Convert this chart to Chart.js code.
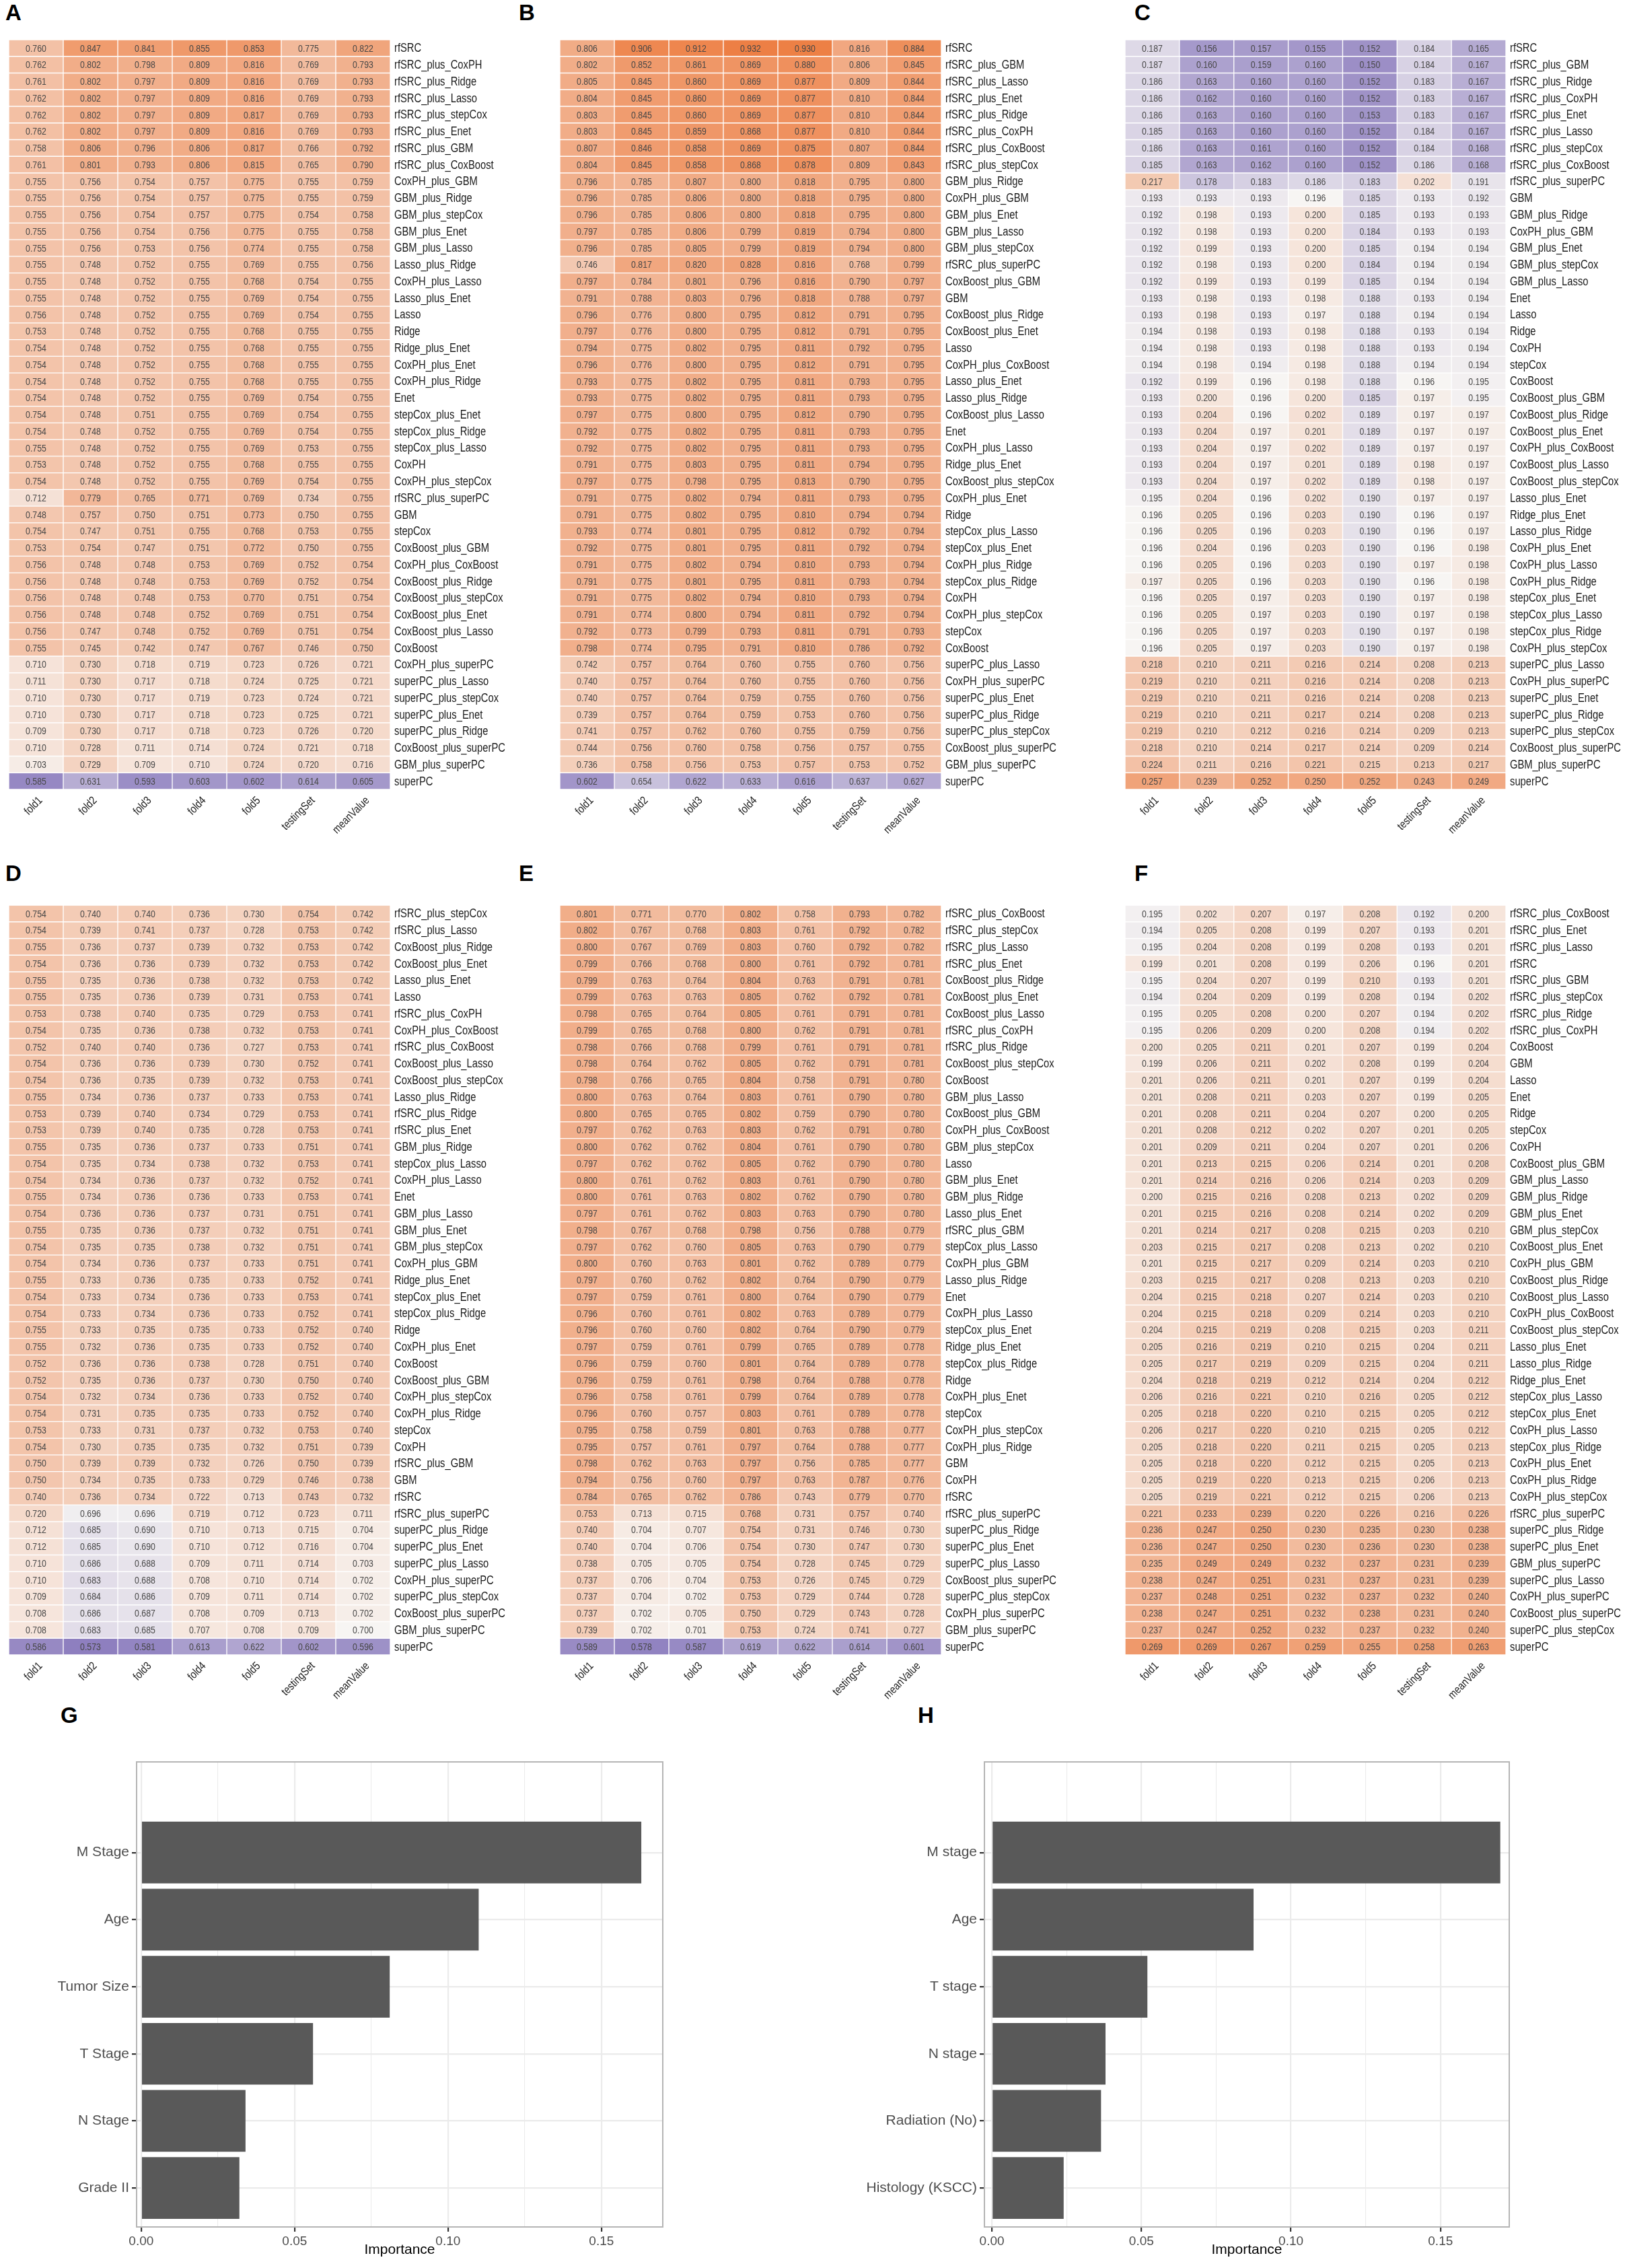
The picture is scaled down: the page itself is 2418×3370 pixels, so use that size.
<!DOCTYPE html>
<html>
<head>
<meta charset="utf-8">
<title>Model benchmark heatmaps and variable importance</title>
<script src="https://cdn.jsdelivr.net/npm/chart.js@4.4.1/dist/chart.umd.min.js"></script>
<style>
  body { margin: 0; background: #fff; }
  #page { position: relative; width: 2418px; height: 3370px; overflow: hidden; background: #fff; }
  canvas { position: absolute; }
  .tag { position: absolute; font: bold 33px 'Liberation Sans', Arial, sans-serif; color: #000; line-height: 1; }
</style>
</head>
<body>
<div id="page">
  <div class="tag" style="left:8px;top:2px">A</div>
  <div class="tag" style="left:771px;top:2px">B</div>
  <div class="tag" style="left:1686px;top:2px">C</div>
  <div class="tag" style="left:8px;top:1281px">D</div>
  <div class="tag" style="left:771px;top:1281px">E</div>
  <div class="tag" style="left:1686px;top:1281px">F</div>
  <div class="tag" style="left:90px;top:2532px">G</div>
  <div class="tag" style="left:1364px;top:2532px">H</div>

  <canvas id="hmA" width="747" height="1209" style="left:13px;top:59px"></canvas>
  <canvas id="hmB" width="747" height="1209" style="left:832px;top:59px"></canvas>
  <canvas id="hmC" width="746" height="1209" style="left:1672px;top:59px"></canvas>
  <canvas id="hmD" width="747" height="1209" style="left:13px;top:1345px"></canvas>
  <canvas id="hmE" width="747" height="1209" style="left:832px;top:1345px"></canvas>
  <canvas id="hmF" width="746" height="1209" style="left:1672px;top:1345px"></canvas>
  <canvas id="barG" width="1000" height="810" style="left:0px;top:2560px"></canvas>
  <canvas id="barH" width="1000" height="810" style="left:1260px;top:2560px"></canvas>
</div>

<script>
// column headers shared by all six heatmaps
const columns = ['fold1', 'fold2', 'fold3', 'fold4', 'fold5', 'testingSet', 'meanValue'];

// panel A
const modelsA = ['rfSRC','rfSRC_plus_CoxPH','rfSRC_plus_Ridge','rfSRC_plus_Lasso','rfSRC_plus_stepCox','rfSRC_plus_Enet','rfSRC_plus_GBM','rfSRC_plus_CoxBoost',
  'CoxPH_plus_GBM','GBM_plus_Ridge','GBM_plus_stepCox','GBM_plus_Enet','GBM_plus_Lasso','Lasso_plus_Ridge','CoxPH_plus_Lasso','Lasso_plus_Enet',
  'Lasso','Ridge','Ridge_plus_Enet','CoxPH_plus_Enet','CoxPH_plus_Ridge','Enet','stepCox_plus_Enet','stepCox_plus_Ridge','stepCox_plus_Lasso',
  'CoxPH','CoxPH_plus_stepCox','rfSRC_plus_superPC','GBM','stepCox','CoxBoost_plus_GBM','CoxPH_plus_CoxBoost','CoxBoost_plus_Ridge',
  'CoxBoost_plus_stepCox','CoxBoost_plus_Enet','CoxBoost_plus_Lasso','CoxBoost','CoxPH_plus_superPC','superPC_plus_Lasso','superPC_plus_stepCox',
  'superPC_plus_Enet','superPC_plus_Ridge','CoxBoost_plus_superPC','GBM_plus_superPC','superPC'];
const valuesA = [
  [0.760,0.847,0.841,0.855,0.853,0.775,0.822],[0.762,0.802,0.798,0.809,0.816,0.769,0.793],[0.761,0.802,0.797,0.809,0.816,0.769,0.793],
  [0.762,0.802,0.797,0.809,0.816,0.769,0.793],[0.762,0.802,0.797,0.809,0.817,0.769,0.793],[0.762,0.802,0.797,0.809,0.816,0.769,0.793],
  [0.758,0.806,0.796,0.806,0.817,0.766,0.792],[0.761,0.801,0.793,0.806,0.815,0.765,0.790],[0.755,0.756,0.754,0.757,0.775,0.755,0.759],
  [0.755,0.756,0.754,0.757,0.775,0.755,0.759],[0.755,0.756,0.754,0.757,0.775,0.754,0.758],[0.755,0.756,0.754,0.756,0.775,0.755,0.758],
  [0.755,0.756,0.753,0.756,0.774,0.755,0.758],[0.755,0.748,0.752,0.755,0.769,0.755,0.756],[0.755,0.748,0.752,0.755,0.768,0.754,0.755],
  [0.755,0.748,0.752,0.755,0.769,0.754,0.755],[0.756,0.748,0.752,0.755,0.769,0.754,0.755],[0.753,0.748,0.752,0.755,0.768,0.755,0.755],
  [0.754,0.748,0.752,0.755,0.768,0.755,0.755],[0.754,0.748,0.752,0.755,0.768,0.755,0.755],[0.754,0.748,0.752,0.755,0.768,0.755,0.755],
  [0.754,0.748,0.752,0.755,0.769,0.754,0.755],[0.754,0.748,0.751,0.755,0.769,0.754,0.755],[0.754,0.748,0.752,0.755,0.769,0.754,0.755],
  [0.755,0.748,0.752,0.755,0.769,0.753,0.755],[0.753,0.748,0.752,0.755,0.768,0.755,0.755],[0.754,0.748,0.752,0.755,0.769,0.754,0.755],
  [0.712,0.779,0.765,0.771,0.769,0.734,0.755],[0.748,0.757,0.750,0.751,0.773,0.750,0.755],[0.754,0.747,0.751,0.755,0.768,0.753,0.755],
  [0.753,0.754,0.747,0.751,0.772,0.750,0.755],[0.756,0.748,0.748,0.753,0.769,0.752,0.754],[0.756,0.748,0.748,0.753,0.769,0.752,0.754],
  [0.756,0.748,0.748,0.753,0.770,0.751,0.754],[0.756,0.748,0.748,0.752,0.769,0.751,0.754],[0.756,0.747,0.748,0.752,0.769,0.751,0.754],
  [0.755,0.745,0.742,0.747,0.767,0.746,0.750],[0.710,0.730,0.718,0.719,0.723,0.726,0.721],[0.711,0.730,0.717,0.718,0.724,0.725,0.721],
  [0.710,0.730,0.717,0.719,0.723,0.724,0.721],[0.710,0.730,0.717,0.718,0.723,0.725,0.721],[0.709,0.730,0.717,0.718,0.723,0.726,0.720],
  [0.710,0.728,0.711,0.714,0.724,0.721,0.718],[0.703,0.729,0.709,0.710,0.724,0.720,0.716],[0.585,0.631,0.593,0.603,0.602,0.614,0.605]];

// panel B
const modelsB = ['rfSRC','rfSRC_plus_GBM','rfSRC_plus_Lasso','rfSRC_plus_Enet','rfSRC_plus_Ridge','rfSRC_plus_CoxPH','rfSRC_plus_CoxBoost','rfSRC_plus_stepCox',
  'GBM_plus_Ridge','CoxPH_plus_GBM','GBM_plus_Enet','GBM_plus_Lasso','GBM_plus_stepCox','rfSRC_plus_superPC','CoxBoost_plus_GBM','GBM',
  'CoxBoost_plus_Ridge','CoxBoost_plus_Enet','Lasso','CoxPH_plus_CoxBoost','Lasso_plus_Enet','Lasso_plus_Ridge','CoxBoost_plus_Lasso','Enet',
  'CoxPH_plus_Lasso','Ridge_plus_Enet','CoxBoost_plus_stepCox','CoxPH_plus_Enet','Ridge','stepCox_plus_Lasso','stepCox_plus_Enet','CoxPH_plus_Ridge',
  'stepCox_plus_Ridge','CoxPH','CoxPH_plus_stepCox','stepCox','CoxBoost','superPC_plus_Lasso','CoxPH_plus_superPC','superPC_plus_Enet',
  'superPC_plus_Ridge','superPC_plus_stepCox','CoxBoost_plus_superPC','GBM_plus_superPC','superPC'];
const valuesB = [
  [0.806,0.906,0.912,0.932,0.930,0.816,0.884],[0.802,0.852,0.861,0.869,0.880,0.806,0.845],[0.805,0.845,0.860,0.869,0.877,0.809,0.844],
  [0.804,0.845,0.860,0.869,0.877,0.810,0.844],[0.803,0.845,0.860,0.869,0.877,0.810,0.844],[0.803,0.845,0.859,0.868,0.877,0.810,0.844],
  [0.807,0.846,0.858,0.869,0.875,0.807,0.844],[0.804,0.845,0.858,0.868,0.878,0.809,0.843],[0.796,0.785,0.807,0.800,0.818,0.795,0.800],
  [0.796,0.785,0.806,0.800,0.818,0.795,0.800],[0.796,0.785,0.806,0.800,0.818,0.795,0.800],[0.797,0.785,0.806,0.799,0.819,0.794,0.800],
  [0.796,0.785,0.805,0.799,0.819,0.794,0.800],[0.746,0.817,0.820,0.828,0.816,0.768,0.799],[0.797,0.784,0.801,0.796,0.816,0.790,0.797],
  [0.791,0.788,0.803,0.796,0.818,0.788,0.797],[0.796,0.776,0.800,0.795,0.812,0.791,0.795],[0.797,0.776,0.800,0.795,0.812,0.791,0.795],
  [0.794,0.775,0.802,0.795,0.811,0.792,0.795],[0.796,0.776,0.800,0.795,0.812,0.791,0.795],[0.793,0.775,0.802,0.795,0.811,0.793,0.795],
  [0.793,0.775,0.802,0.795,0.811,0.793,0.795],[0.797,0.775,0.800,0.795,0.812,0.790,0.795],[0.792,0.775,0.802,0.795,0.811,0.793,0.795],
  [0.792,0.775,0.802,0.795,0.811,0.793,0.795],[0.791,0.775,0.803,0.795,0.811,0.794,0.795],[0.797,0.775,0.798,0.795,0.813,0.790,0.795],
  [0.791,0.775,0.802,0.794,0.811,0.793,0.795],[0.791,0.775,0.802,0.795,0.810,0.794,0.794],[0.793,0.774,0.801,0.795,0.812,0.792,0.794],
  [0.792,0.775,0.801,0.795,0.811,0.792,0.794],[0.791,0.775,0.802,0.794,0.810,0.793,0.794],[0.791,0.775,0.801,0.795,0.811,0.793,0.794],
  [0.791,0.775,0.802,0.794,0.810,0.793,0.794],[0.791,0.774,0.800,0.794,0.811,0.792,0.794],[0.792,0.773,0.799,0.793,0.811,0.791,0.793],
  [0.798,0.774,0.795,0.791,0.810,0.786,0.792],[0.742,0.757,0.764,0.760,0.755,0.760,0.756],[0.740,0.757,0.764,0.760,0.755,0.760,0.756],
  [0.740,0.757,0.764,0.759,0.755,0.760,0.756],[0.739,0.757,0.764,0.759,0.753,0.760,0.756],[0.741,0.757,0.762,0.760,0.755,0.759,0.756],
  [0.744,0.756,0.760,0.758,0.756,0.757,0.755],[0.736,0.758,0.756,0.753,0.757,0.753,0.752],[0.602,0.654,0.622,0.633,0.616,0.637,0.627]];

// panel C
const modelsC = ['rfSRC','rfSRC_plus_GBM','rfSRC_plus_Ridge','rfSRC_plus_CoxPH','rfSRC_plus_Enet','rfSRC_plus_Lasso','rfSRC_plus_stepCox','rfSRC_plus_CoxBoost',
  'rfSRC_plus_superPC','GBM','GBM_plus_Ridge','CoxPH_plus_GBM','GBM_plus_Enet','GBM_plus_stepCox','GBM_plus_Lasso','Enet','Lasso','Ridge','CoxPH',
  'stepCox','CoxBoost','CoxBoost_plus_GBM','CoxBoost_plus_Ridge','CoxBoost_plus_Enet','CoxPH_plus_CoxBoost','CoxBoost_plus_Lasso','CoxBoost_plus_stepCox',
  'Lasso_plus_Enet','Ridge_plus_Enet','Lasso_plus_Ridge','CoxPH_plus_Enet','CoxPH_plus_Lasso','CoxPH_plus_Ridge','stepCox_plus_Enet','stepCox_plus_Lasso',
  'stepCox_plus_Ridge','CoxPH_plus_stepCox','superPC_plus_Lasso','CoxPH_plus_superPC','superPC_plus_Enet','superPC_plus_Ridge','superPC_plus_stepCox',
  'CoxBoost_plus_superPC','GBM_plus_superPC','superPC'];
const valuesC = [
  [0.187,0.156,0.157,0.155,0.152,0.184,0.165],[0.187,0.160,0.159,0.160,0.150,0.184,0.167],[0.186,0.163,0.160,0.160,0.152,0.183,0.167],
  [0.186,0.162,0.160,0.160,0.152,0.183,0.167],[0.186,0.163,0.160,0.160,0.153,0.183,0.167],[0.185,0.163,0.160,0.160,0.152,0.184,0.167],
  [0.186,0.163,0.161,0.160,0.152,0.184,0.168],[0.185,0.163,0.162,0.160,0.152,0.186,0.168],[0.217,0.178,0.183,0.186,0.183,0.202,0.191],
  [0.193,0.193,0.193,0.196,0.185,0.193,0.192],[0.192,0.198,0.193,0.200,0.185,0.193,0.193],[0.192,0.198,0.193,0.200,0.184,0.193,0.193],
  [0.192,0.199,0.193,0.200,0.185,0.194,0.194],[0.192,0.198,0.193,0.200,0.184,0.194,0.194],[0.192,0.199,0.193,0.199,0.185,0.194,0.194],
  [0.193,0.198,0.193,0.198,0.188,0.193,0.194],[0.193,0.198,0.193,0.197,0.188,0.194,0.194],[0.194,0.198,0.193,0.198,0.188,0.193,0.194],
  [0.194,0.198,0.193,0.198,0.188,0.193,0.194],[0.194,0.198,0.194,0.198,0.188,0.194,0.194],[0.192,0.199,0.196,0.198,0.188,0.196,0.195],
  [0.193,0.200,0.196,0.200,0.185,0.197,0.195],[0.193,0.204,0.196,0.202,0.189,0.197,0.197],[0.193,0.204,0.197,0.201,0.189,0.197,0.197],
  [0.193,0.204,0.197,0.202,0.189,0.197,0.197],[0.193,0.204,0.197,0.201,0.189,0.198,0.197],[0.193,0.204,0.197,0.202,0.189,0.198,0.197],
  [0.195,0.204,0.196,0.202,0.190,0.197,0.197],[0.196,0.205,0.196,0.203,0.190,0.196,0.197],[0.196,0.205,0.196,0.203,0.190,0.196,0.197],
  [0.196,0.204,0.196,0.203,0.190,0.196,0.198],[0.196,0.205,0.196,0.203,0.190,0.197,0.198],[0.197,0.205,0.196,0.203,0.190,0.196,0.198],
  [0.196,0.205,0.197,0.203,0.190,0.197,0.198],[0.196,0.205,0.197,0.203,0.190,0.197,0.198],[0.196,0.205,0.197,0.203,0.190,0.197,0.198],
  [0.196,0.205,0.197,0.203,0.190,0.197,0.198],[0.218,0.210,0.211,0.216,0.214,0.208,0.213],[0.219,0.210,0.211,0.216,0.214,0.208,0.213],
  [0.219,0.210,0.211,0.216,0.214,0.208,0.213],[0.219,0.210,0.211,0.217,0.214,0.208,0.213],[0.219,0.210,0.212,0.216,0.214,0.209,0.213],
  [0.218,0.210,0.214,0.217,0.214,0.209,0.214],[0.224,0.211,0.216,0.221,0.215,0.213,0.217],[0.257,0.239,0.252,0.250,0.252,0.243,0.249]];

// panel D
const modelsD = ['rfSRC_plus_stepCox','rfSRC_plus_Lasso','CoxBoost_plus_Ridge','CoxBoost_plus_Enet','Lasso_plus_Enet','Lasso','rfSRC_plus_CoxPH',
  'CoxPH_plus_CoxBoost','rfSRC_plus_CoxBoost','CoxBoost_plus_Lasso','CoxBoost_plus_stepCox','Lasso_plus_Ridge','rfSRC_plus_Ridge','rfSRC_plus_Enet',
  'GBM_plus_Ridge','stepCox_plus_Lasso','CoxPH_plus_Lasso','Enet','GBM_plus_Lasso','GBM_plus_Enet','GBM_plus_stepCox','CoxPH_plus_GBM',
  'Ridge_plus_Enet','stepCox_plus_Enet','stepCox_plus_Ridge','Ridge','CoxPH_plus_Enet','CoxBoost','CoxBoost_plus_GBM','CoxPH_plus_stepCox',
  'CoxPH_plus_Ridge','stepCox','CoxPH','rfSRC_plus_GBM','GBM','rfSRC','rfSRC_plus_superPC','superPC_plus_Ridge','superPC_plus_Enet',
  'superPC_plus_Lasso','CoxPH_plus_superPC','superPC_plus_stepCox','CoxBoost_plus_superPC','GBM_plus_superPC','superPC'];
const valuesD = [
  [0.754,0.740,0.740,0.736,0.730,0.754,0.742],[0.754,0.739,0.741,0.737,0.728,0.753,0.742],[0.755,0.736,0.737,0.739,0.732,0.753,0.742],
  [0.754,0.736,0.736,0.739,0.732,0.753,0.742],[0.755,0.735,0.736,0.738,0.732,0.753,0.742],[0.755,0.735,0.736,0.739,0.731,0.753,0.741],
  [0.753,0.738,0.740,0.735,0.729,0.753,0.741],[0.754,0.735,0.736,0.738,0.732,0.753,0.741],[0.752,0.740,0.740,0.736,0.727,0.753,0.741],
  [0.754,0.736,0.736,0.739,0.730,0.752,0.741],[0.754,0.736,0.735,0.739,0.732,0.753,0.741],[0.755,0.734,0.736,0.737,0.733,0.753,0.741],
  [0.753,0.739,0.740,0.734,0.729,0.753,0.741],[0.753,0.739,0.740,0.735,0.728,0.753,0.741],[0.755,0.735,0.736,0.737,0.733,0.751,0.741],
  [0.754,0.735,0.734,0.738,0.732,0.753,0.741],[0.754,0.734,0.736,0.737,0.732,0.752,0.741],[0.755,0.734,0.736,0.736,0.733,0.753,0.741],
  [0.754,0.736,0.736,0.737,0.731,0.751,0.741],[0.755,0.735,0.736,0.737,0.732,0.751,0.741],[0.754,0.735,0.735,0.738,0.732,0.751,0.741],
  [0.754,0.734,0.736,0.737,0.733,0.751,0.741],[0.755,0.733,0.736,0.735,0.733,0.752,0.741],[0.754,0.733,0.734,0.736,0.733,0.753,0.741],
  [0.754,0.733,0.734,0.736,0.733,0.752,0.741],[0.755,0.733,0.735,0.735,0.733,0.752,0.740],[0.755,0.732,0.736,0.735,0.733,0.752,0.740],
  [0.752,0.736,0.736,0.738,0.728,0.751,0.740],[0.752,0.735,0.736,0.737,0.730,0.750,0.740],[0.754,0.732,0.734,0.736,0.733,0.752,0.740],
  [0.754,0.731,0.735,0.735,0.733,0.752,0.740],[0.753,0.733,0.731,0.737,0.732,0.753,0.740],[0.754,0.730,0.735,0.735,0.732,0.751,0.739],
  [0.750,0.739,0.739,0.732,0.726,0.750,0.739],[0.750,0.734,0.735,0.733,0.729,0.746,0.738],[0.740,0.736,0.734,0.722,0.713,0.743,0.732],
  [0.720,0.696,0.696,0.719,0.712,0.723,0.711],[0.712,0.685,0.690,0.710,0.713,0.715,0.704],[0.712,0.685,0.690,0.710,0.712,0.716,0.704],
  [0.710,0.686,0.688,0.709,0.711,0.714,0.703],[0.710,0.683,0.688,0.708,0.710,0.714,0.702],[0.709,0.684,0.686,0.709,0.711,0.714,0.702],
  [0.708,0.686,0.687,0.708,0.709,0.713,0.702],[0.708,0.683,0.685,0.707,0.708,0.709,0.700],[0.586,0.573,0.581,0.613,0.622,0.602,0.596]];

// panel E
const modelsE = ['rfSRC_plus_CoxBoost','rfSRC_plus_stepCox','rfSRC_plus_Lasso','rfSRC_plus_Enet','CoxBoost_plus_Ridge','CoxBoost_plus_Enet',
  'CoxBoost_plus_Lasso','rfSRC_plus_CoxPH','rfSRC_plus_Ridge','CoxBoost_plus_stepCox','CoxBoost','GBM_plus_Lasso','CoxBoost_plus_GBM',
  'CoxPH_plus_CoxBoost','GBM_plus_stepCox','Lasso','GBM_plus_Enet','GBM_plus_Ridge','Lasso_plus_Enet','rfSRC_plus_GBM','stepCox_plus_Lasso',
  'CoxPH_plus_GBM','Lasso_plus_Ridge','Enet','CoxPH_plus_Lasso','stepCox_plus_Enet','Ridge_plus_Enet','stepCox_plus_Ridge','Ridge',
  'CoxPH_plus_Enet','stepCox','CoxPH_plus_stepCox','CoxPH_plus_Ridge','GBM','CoxPH','rfSRC','rfSRC_plus_superPC','superPC_plus_Ridge',
  'superPC_plus_Enet','superPC_plus_Lasso','CoxBoost_plus_superPC','superPC_plus_stepCox','CoxPH_plus_superPC','GBM_plus_superPC','superPC'];
const valuesE = [
  [0.801,0.771,0.770,0.802,0.758,0.793,0.782],[0.802,0.767,0.768,0.803,0.761,0.792,0.782],[0.800,0.767,0.769,0.803,0.760,0.792,0.782],
  [0.799,0.766,0.768,0.800,0.761,0.792,0.781],[0.799,0.763,0.764,0.804,0.763,0.791,0.781],[0.799,0.763,0.763,0.805,0.762,0.792,0.781],
  [0.798,0.765,0.764,0.805,0.761,0.791,0.781],[0.799,0.765,0.768,0.800,0.762,0.791,0.781],[0.798,0.766,0.768,0.799,0.761,0.791,0.781],
  [0.798,0.764,0.762,0.805,0.762,0.791,0.781],[0.798,0.766,0.765,0.804,0.758,0.791,0.780],[0.800,0.763,0.764,0.803,0.761,0.790,0.780],
  [0.800,0.765,0.765,0.802,0.759,0.790,0.780],[0.797,0.762,0.763,0.803,0.762,0.791,0.780],[0.800,0.762,0.762,0.804,0.761,0.790,0.780],
  [0.797,0.762,0.762,0.805,0.762,0.790,0.780],[0.800,0.761,0.762,0.803,0.761,0.790,0.780],[0.800,0.761,0.763,0.802,0.762,0.790,0.780],
  [0.797,0.761,0.762,0.803,0.763,0.790,0.780],[0.798,0.767,0.768,0.798,0.756,0.788,0.779],[0.797,0.762,0.760,0.805,0.763,0.790,0.779],
  [0.800,0.760,0.763,0.801,0.762,0.789,0.779],[0.797,0.760,0.762,0.802,0.764,0.790,0.779],[0.797,0.759,0.761,0.800,0.764,0.790,0.779],
  [0.796,0.760,0.761,0.802,0.763,0.789,0.779],[0.796,0.760,0.760,0.802,0.764,0.790,0.779],[0.797,0.759,0.761,0.799,0.765,0.789,0.778],
  [0.796,0.759,0.760,0.801,0.764,0.789,0.778],[0.796,0.759,0.761,0.798,0.764,0.788,0.778],[0.796,0.758,0.761,0.799,0.764,0.789,0.778],
  [0.796,0.760,0.757,0.803,0.761,0.789,0.778],[0.795,0.758,0.759,0.801,0.763,0.788,0.777],[0.795,0.757,0.761,0.797,0.764,0.788,0.777],
  [0.798,0.762,0.763,0.797,0.756,0.785,0.777],[0.794,0.756,0.760,0.797,0.763,0.787,0.776],[0.784,0.765,0.762,0.786,0.743,0.779,0.770],
  [0.753,0.713,0.715,0.768,0.731,0.757,0.740],[0.740,0.704,0.707,0.754,0.731,0.746,0.730],[0.740,0.704,0.706,0.754,0.730,0.747,0.730],
  [0.738,0.705,0.705,0.754,0.728,0.745,0.729],[0.737,0.706,0.704,0.753,0.726,0.745,0.729],[0.737,0.704,0.702,0.753,0.729,0.744,0.728],
  [0.737,0.702,0.705,0.750,0.729,0.743,0.728],[0.739,0.702,0.701,0.753,0.724,0.741,0.727],[0.589,0.578,0.587,0.619,0.622,0.614,0.601]];

// panel F
const modelsF = ['rfSRC_plus_CoxBoost','rfSRC_plus_Enet','rfSRC_plus_Lasso','rfSRC','rfSRC_plus_GBM','rfSRC_plus_stepCox','rfSRC_plus_Ridge',
  'rfSRC_plus_CoxPH','CoxBoost','GBM','Lasso','Enet','Ridge','stepCox','CoxPH','CoxBoost_plus_GBM','GBM_plus_Lasso','GBM_plus_Ridge',
  'GBM_plus_Enet','GBM_plus_stepCox','CoxBoost_plus_Enet','CoxPH_plus_GBM','CoxBoost_plus_Ridge','CoxBoost_plus_Lasso','CoxPH_plus_CoxBoost',
  'CoxBoost_plus_stepCox','Lasso_plus_Enet','Lasso_plus_Ridge','Ridge_plus_Enet','stepCox_plus_Lasso','stepCox_plus_Enet','CoxPH_plus_Lasso',
  'stepCox_plus_Ridge','CoxPH_plus_Enet','CoxPH_plus_Ridge','CoxPH_plus_stepCox','rfSRC_plus_superPC','superPC_plus_Ridge','superPC_plus_Enet',
  'GBM_plus_superPC','superPC_plus_Lasso','CoxPH_plus_superPC','CoxBoost_plus_superPC','superPC_plus_stepCox','superPC'];
const valuesF = [
  [0.195,0.202,0.207,0.197,0.208,0.192,0.200],[0.194,0.205,0.208,0.199,0.207,0.193,0.201],[0.195,0.204,0.208,0.199,0.208,0.193,0.201],
  [0.199,0.201,0.208,0.199,0.206,0.196,0.201],[0.195,0.204,0.207,0.199,0.210,0.193,0.201],[0.194,0.204,0.209,0.199,0.208,0.194,0.202],
  [0.195,0.205,0.208,0.200,0.207,0.194,0.202],[0.195,0.206,0.209,0.200,0.208,0.194,0.202],[0.200,0.205,0.211,0.201,0.207,0.199,0.204],
  [0.199,0.206,0.211,0.202,0.208,0.199,0.204],[0.201,0.206,0.211,0.201,0.207,0.199,0.204],[0.201,0.208,0.211,0.203,0.207,0.199,0.205],
  [0.201,0.208,0.211,0.204,0.207,0.200,0.205],[0.201,0.208,0.212,0.202,0.207,0.201,0.205],[0.201,0.209,0.211,0.204,0.207,0.201,0.206],
  [0.201,0.213,0.215,0.206,0.214,0.201,0.208],[0.201,0.214,0.216,0.206,0.214,0.203,0.209],[0.200,0.215,0.216,0.208,0.213,0.202,0.209],
  [0.201,0.215,0.216,0.208,0.214,0.202,0.209],[0.201,0.214,0.217,0.208,0.215,0.203,0.210],[0.203,0.215,0.217,0.208,0.213,0.202,0.210],
  [0.201,0.215,0.217,0.209,0.214,0.203,0.210],[0.203,0.215,0.217,0.208,0.213,0.203,0.210],[0.204,0.215,0.218,0.207,0.214,0.203,0.210],
  [0.204,0.215,0.218,0.209,0.214,0.203,0.210],[0.204,0.215,0.219,0.208,0.215,0.203,0.211],[0.205,0.216,0.219,0.210,0.215,0.204,0.211],
  [0.205,0.217,0.219,0.209,0.215,0.204,0.211],[0.204,0.218,0.219,0.212,0.214,0.204,0.212],[0.206,0.216,0.221,0.210,0.216,0.205,0.212],
  [0.205,0.218,0.220,0.210,0.215,0.205,0.212],[0.206,0.217,0.220,0.210,0.215,0.205,0.212],[0.205,0.218,0.220,0.211,0.215,0.205,0.213],
  [0.205,0.218,0.220,0.212,0.215,0.205,0.213],[0.205,0.219,0.220,0.213,0.215,0.206,0.213],[0.205,0.219,0.221,0.212,0.215,0.206,0.213],
  [0.221,0.233,0.239,0.220,0.226,0.216,0.226],[0.236,0.247,0.250,0.230,0.235,0.230,0.238],[0.236,0.247,0.250,0.230,0.236,0.230,0.238],
  [0.235,0.249,0.249,0.232,0.237,0.231,0.239],[0.238,0.247,0.251,0.231,0.237,0.231,0.239],[0.237,0.248,0.251,0.232,0.237,0.232,0.240],
  [0.238,0.247,0.251,0.232,0.238,0.231,0.240],[0.237,0.247,0.252,0.232,0.237,0.232,0.240],[0.269,0.269,0.267,0.259,0.255,0.258,0.263]];

// panels G and H: variable importance
const featuresG = ['M Stage', 'Age', 'Tumor Size', 'T Stage', 'N Stage', 'Grade II'];
const importanceG = [0.163, 0.110, 0.081, 0.056, 0.034, 0.032];
const featuresH = ['M stage', 'Age', 'T stage', 'N stage', 'Radiation (No)', 'Histology (KSCC)'];
const importanceH = [0.170, 0.0875, 0.052, 0.038, 0.0365, 0.024];
const importanceTicks = [0, 0.025, 0.05, 0.075, 0.1, 0.125, 0.15];

const SANS = "'Liberation Sans', Arial, sans-serif";
Chart.defaults.font.family = SANS;

// purple -> white -> orange; C-index panels and Brier panels each share one scale
const cindexScale = { lo: 0.57, mid: 0.70, hi: 0.94 };
const brierScale = { lo: 0.14, mid: 0.196, hi: 0.31 };
const WHITE = [247, 245, 243], ORANGE = [237, 125, 65], PURPLE = [140, 125, 190];

function mix(a, b, t) {
  return 'rgb(' + a.map((x, i) => Math.round(x + (b[i] - x) * t)).join(',') + ')';
}
function heatColor(v, s) {
  if (v >= s.mid) {
    const t = Math.pow(Math.min(1, (v - s.mid) / (s.hi - s.mid)), 0.6);
    return mix(WHITE, ORANGE, t);
  }
  const t = Math.pow(Math.min(1, (s.mid - v) / (s.mid - s.lo)), 0.8);
  return mix(WHITE, PURPLE, t);
}

// the figure uses a condensed face; squeeze the text horizontally
const SQUEEZE = 0.82;
function narrowText(ctx, text, x, y, angle) {
  ctx.save();
  ctx.translate(x, y);
  if (angle) ctx.rotate(angle);
  ctx.scale(SQUEEZE, 1);
  ctx.fillText(text, 0, 0);
  ctx.restore();
}

// cell values plus row and column names
const heatText = {
  id: 'heatText',
  afterDatasetsDraw(chart) {
    const ctx = chart.ctx, area = chart.chartArea;
    const xs = chart.scales.x, ys = chart.scales.y;
    ctx.save();
    ctx.font = '15px ' + SANS;
    ctx.fillStyle = '#474747';
    ctx.textAlign = 'center';
    ctx.textBaseline = 'middle';
    chart.data.datasets.forEach((ds, di) => {
      chart.getDatasetMeta(di).data.forEach((el, i) => {
        const p = el.getCenterPoint();
        narrowText(ctx, ds.data[i].v.toFixed(3), p.x, p.y + 1);
      });
    });
    ctx.fillStyle = '#1a1a1a';
    ctx.font = '18px ' + SANS;
    ctx.textAlign = 'left';
    chart.data.labels.forEach((name, i) => {
      narrowText(ctx, name, area.right + 6, ys.getPixelForValue(i) + 1);
    });
    ctx.font = '17px ' + SANS;
    ctx.textAlign = 'right';
    columns.forEach((name, c) => {
      narrowText(ctx, name, xs.getPixelForValue(c + 0.5) + 7, area.bottom + 14, -Math.PI / 4);
    });
    ctx.restore();
  }
};

function heatmap(id, models, values, scale) {
  const datasets = columns.map((col, c) => ({
    label: col,
    data: models.map((m, r) => ({ x: [c, c + 1], y: m, v: values[r][c] })),
    backgroundColor: ctx => ctx.raw ? heatColor(ctx.raw.v, scale) : '#fff',
    borderColor: 'rgba(255,255,255,0.35)',
    borderWidth: 1,
    borderSkipped: false,
    barPercentage: 1,
    categoryPercentage: 1,
    grouped: false
  }));
  new Chart(document.getElementById(id), {
    type: 'bar',
    data: { labels: models, datasets: datasets },
    options: {
      indexAxis: 'y',
      responsive: false,
      animation: false,
      devicePixelRatio: 1,
      layout: { padding: 0, autoPadding: false },
      plugins: { legend: { display: false }, tooltip: { enabled: false } },
      scales: {
        x: {
          type: 'linear', min: 0, max: columns.length,
          afterFit: s => { s.height = 95; },
          grid: { display: false, drawTicks: false },
          border: { display: false },
          ticks: { display: false }
        },
        y: {
          position: 'right',
          afterFit: s => { s.width = 180; },
          grid: { display: false, drawTicks: false },
          border: { display: false },
          ticks: { display: false }
        }
      }
    },
    plugins: [heatText]
  });
}

heatmap('hmA', modelsA, valuesA, cindexScale);
heatmap('hmB', modelsB, valuesB, cindexScale);
heatmap('hmC', modelsC, valuesC, brierScale);
heatmap('hmD', modelsD, valuesD, cindexScale);
heatmap('hmE', modelsE, valuesE, cindexScale);
heatmap('hmF', modelsF, valuesF, brierScale);

// grey panel border like ggplot theme_bw
const frame = {
  id: 'frame',
  afterDraw(chart) {
    const a = chart.chartArea, ctx = chart.ctx;
    ctx.save();
    ctx.strokeStyle = '#b5b5b5';
    ctx.lineWidth = 2;
    ctx.strokeRect(a.left, a.top, a.right - a.left, a.bottom - a.top);
    ctx.restore();
  }
};
const isMajor = v => Math.round(v * 1000) % 50 === 0;

function importanceBars(id, features, values, xmin, xmax, padRight) {
  new Chart(document.getElementById(id), {
    type: 'bar',
    data: {
      datasets: [{
        data: features.map((f, i) => ({ x: values[i], y: i })),
        backgroundColor: '#595959',
        barPercentage: 0.92,
        categoryPercentage: 1
      }]
    },
    options: {
      indexAxis: 'y',
      responsive: false,
      animation: false,
      devicePixelRatio: 1,
      layout: { padding: { left: 3, top: 58, right: padRight, bottom: 14 }, autoPadding: false },
      plugins: { legend: { display: false }, tooltip: { enabled: false } },
      scales: {
        x: {
          type: 'linear', min: xmin, max: xmax,
          afterBuildTicks: s => { s.ticks = importanceTicks.map(v => ({ value: v })); },
          afterFit: s => { s.height = 47; },
          grid: {
            color: '#ebebeb',
            lineWidth: c => (c.tick && isMajor(c.tick.value)) ? 2.2 : 1.1,
            tickColor: c => (c.tick && isMajor(c.tick.value)) ? '#333' : 'rgba(0,0,0,0)',
            tickLength: 7
          },
          border: { display: false },
          ticks: {
            autoSkip: false, maxRotation: 0, color: '#4d4d4d', font: { size: 19 }, padding: 3,
            callback: v => isMajor(v) ? v.toFixed(2) : ''
          },
          title: { display: true, text: 'Importance', color: '#000', font: { size: 21 }, padding: { top: 0, bottom: 0 } }
        },
        y: {
          type: 'linear', reverse: true, offset: false, min: -1.35, max: features.length - 0.42,
          afterBuildTicks: s => { s.ticks = features.map((f, i) => ({ value: i })); },
          afterFit: s => { s.width = 200; },
          grid: { offset: false, color: '#ebebeb', lineWidth: 2.2, tickColor: '#333', tickLength: 7 },
          border: { display: false },
          ticks: { autoSkip: false, color: '#4d4d4d', font: { size: 21 }, padding: 4, callback: v => features[v] }
        }
      }
    },
    plugins: [frame]
  });
}

importanceBars('barG', featuresG, importanceG, -0.0015, 0.17, 15);
importanceBars('barH', featuresH, importanceH, -0.0025, 0.173, 17);
</script>
</body>
</html>
